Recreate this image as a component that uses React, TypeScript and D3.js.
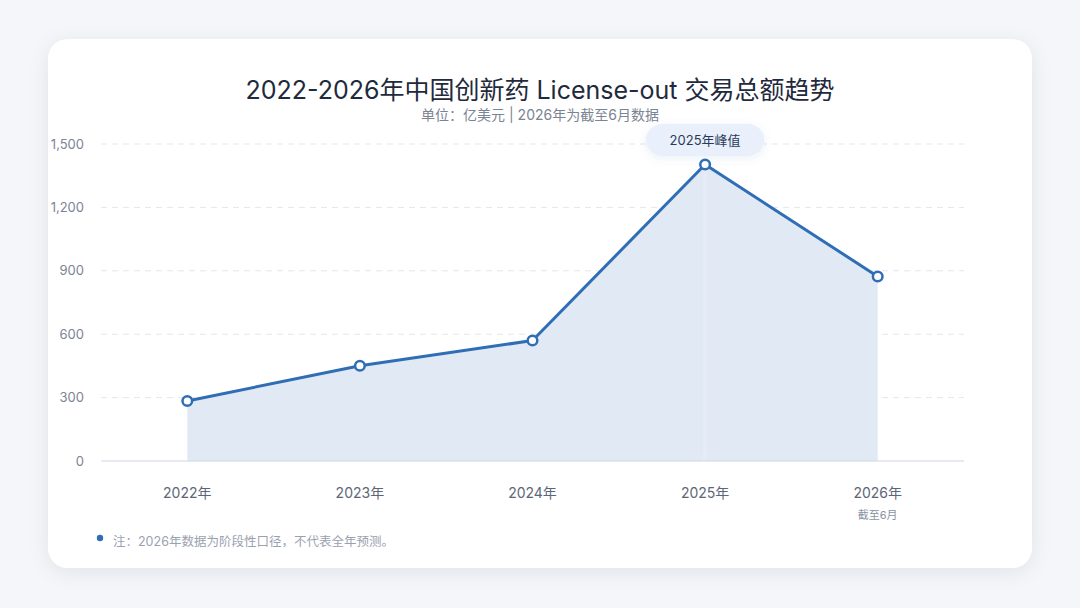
import { useEffect, useRef } from 'react';
import * as d3 from 'd3';

const YEARS = ['2022年', '2023年', '2024年', '2025年', '2026年'];
const VALUES = [284, 451, 570, 1403, 873];
const Y_TICKS = [0, 300, 600, 900, 1200, 1500];
const SUB_LABELS = ['', '', '', '', '截至6月'];

const WIDTH = 1080;
const HEIGHT = 608;
const LINE_COLOR = '#2f6db5';
const FONT = "Inter, 'Noto Sans CJK SC', 'Noto Sans', sans-serif";

export default function App() {
  const svgRef = useRef<SVGSVGElement>(null);

  useEffect(() => {
    if (!svgRef.current) return;
    document.body.style.margin = '0';

    const svg = d3.select(svgRef.current);
    svg.selectAll('*').remove();

    const defs = svg.append('defs');
    const shadow = defs.append('filter').attr('id', 'cardShadow')
      .attr('x', '-10%').attr('y', '-10%').attr('width', '120%').attr('height', '120%');
    shadow.append('feDropShadow')
      .attr('dx', 0).attr('dy', 4).attr('stdDeviation', 10)
      .attr('flood-color', '#1e2a44').attr('flood-opacity', 0.08);

    const pillShadow = defs.append('filter').attr('id', 'pillShadow')
      .attr('x', '-20%').attr('y', '-40%').attr('width', '140%').attr('height', '180%');
    pillShadow.append('feDropShadow')
      .attr('dx', 0).attr('dy', 2).attr('stdDeviation', 4)
      .attr('flood-color', '#2f6db5').attr('flood-opacity', 0.1);

    // page + card
    svg.append('rect').attr('width', WIDTH).attr('height', HEIGHT).attr('fill', '#f4f6fa');
    svg.append('rect')
      .attr('x', 48).attr('y', 39).attr('width', 984).attr('height', 529)
      .attr('rx', 20).attr('fill', '#ffffff')
      .attr('filter', 'url(#cardShadow)');

    svg.append('text')
      .attr('x', 540).attr('y', 99)
      .attr('text-anchor', 'middle')
      .attr('font-family', FONT).attr('font-size', 25).attr('font-weight', 400)
      .attr('fill', '#1f2a3c')
      .text('2022-2026年中国创新药 License-out 交易总额趋势');

    svg.append('text')
      .attr('x', 540).attr('y', 120)
      .attr('text-anchor', 'middle')
      .attr('font-family', FONT).attr('font-size', 14)
      .attr('fill', '#7b8494')
      .text('单位：亿美元 | 2026年为截至6月数据');

    const x = d3.scalePoint<string>().domain(YEARS).range([101, 964]).padding(0.5);
    const y = d3.scaleLinear().domain([0, 1500]).range([461, 144]);

    // grid
    svg.append('g').selectAll('line').data(Y_TICKS.filter(t => t > 0)).join('line')
      .attr('x1', 101).attr('x2', 964)
      .attr('y1', d => y(d)).attr('y2', d => y(d))
      .attr('stroke', '#e4e7ed').attr('stroke-width', 1)
      .attr('stroke-dasharray', '6,5');

    svg.append('g').selectAll('text').data(Y_TICKS).join('text')
      .attr('x', 84).attr('y', d => y(d) + 4.5)
      .attr('text-anchor', 'end')
      .attr('font-family', FONT).attr('font-size', 13)
      .attr('fill', '#7b8494')
      .text(d => d3.format(',')(d));

    const area = d3.area<number>()
      .x((_, i) => x(YEARS[i]) as number)
      .y0(y(0))
      .y1(d => y(d));

    svg.append('path')
      .attr('d', area(VALUES))
      .attr('fill', '#e1e9f5');

    // faint highlight at the peak
    const peakIdx = VALUES.indexOf(d3.max(VALUES) as number);
    svg.append('line')
      .attr('x1', x(YEARS[peakIdx]) as number).attr('x2', x(YEARS[peakIdx]) as number)
      .attr('y1', y(VALUES[peakIdx])).attr('y2', y(0))
      .attr('stroke', '#ffffff').attr('stroke-opacity', 0.15).attr('stroke-width', 4);

    svg.append('line')
      .attr('x1', 101).attr('x2', 964)
      .attr('y1', y(0)).attr('y2', y(0))
      .attr('stroke', '#cfd6e3').attr('stroke-width', 1);

    const line = d3.line<number>()
      .x((_, i) => x(YEARS[i]) as number)
      .y(d => y(d));

    svg.append('path')
      .attr('d', line(VALUES))
      .attr('fill', 'none')
      .attr('stroke', LINE_COLOR).attr('stroke-width', 3)
      .attr('stroke-linejoin', 'round');

    svg.append('g').selectAll('circle').data(VALUES).join('circle')
      .attr('cx', (_, i) => x(YEARS[i]) as number)
      .attr('cy', d => y(d))
      .attr('r', 4.8)
      .attr('fill', '#ffffff')
      .attr('stroke', LINE_COLOR).attr('stroke-width', 2.5);

    // x labels
    svg.append('g').selectAll('text').data(YEARS).join('text')
      .attr('x', d => x(d) as number).attr('y', 498)
      .attr('text-anchor', 'middle')
      .attr('font-family', FONT).attr('font-size', 14)
      .attr('fill', '#5d6677')
      .text(d => d);

    svg.append('g').selectAll('text').data(SUB_LABELS).join('text')
      .attr('x', (_, i) => x(YEARS[i]) as number).attr('y', 519)
      .attr('text-anchor', 'middle')
      .attr('font-family', FONT).attr('font-size', 11)
      .attr('fill', '#8a93a3')
      .text(d => d);

    // peak pill
    const px = x(YEARS[peakIdx]) as number;
    const py = 140;
    const pill = svg.append('g');
    pill.append('rect')
      .attr('x', px - 59).attr('y', py - 16).attr('width', 118).attr('height', 32)
      .attr('rx', 16).attr('fill', '#e9f0fb')
      .attr('filter', 'url(#pillShadow)');
    pill.append('text')
      .attr('x', px).attr('y', py + 4.5)
      .attr('text-anchor', 'middle')
      .attr('font-family', FONT).attr('font-size', 13).attr('font-weight', 400)
      .attr('fill', '#2a3b5a')
      .text(`${YEARS[peakIdx]}峰值`);

    // footnote
    svg.append('circle').attr('cx', 100).attr('cy', 538).attr('r', 3.2).attr('fill', LINE_COLOR);
    svg.append('text')
      .attr('x', 113).attr('y', 546)
      .attr('font-family', FONT).attr('font-size', 12.5)
      .attr('fill', '#9aa2b0')
      .text('注：2026年数据为阶段性口径，不代表全年预测。');
  }, []);

  return (
    <div style={{ position: 'fixed', left: 0, top: 0 }}>
      <svg ref={svgRef} width={WIDTH} height={HEIGHT} style={{ display: 'block' }} />
    </div>
  );
}
